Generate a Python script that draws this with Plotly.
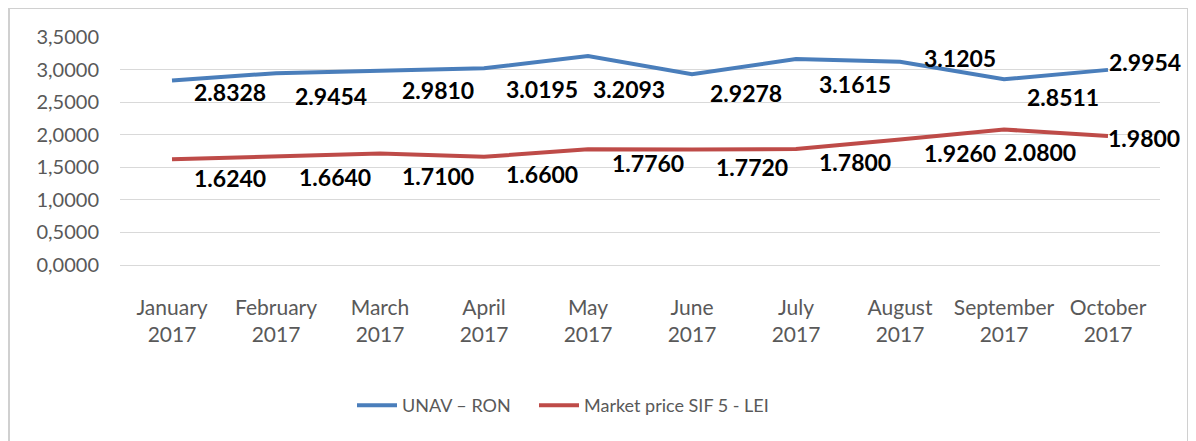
import plotly.graph_objects as go

months = ["January<br>2017", "February<br>2017", "March<br>2017", "April<br>2017", "May<br>2017",
          "June<br>2017", "July<br>2017", "August<br>2017", "September<br>2017", "October<br>2017"]
unav = [2.8328, 2.9454, 2.9810, 3.0195, 3.2093, 2.9278, 3.1615, 3.1205, 2.8511, 2.9954]
market = [1.6240, 1.6640, 1.7100, 1.6600, 1.7760, 1.7720, 1.7800, 1.9260, 2.0800, 1.9800]
y_ticks = [0, 0.5, 1.0, 1.5, 2.0, 2.5, 3.0, 3.5]
y_tick_text = ["0,0000", "0,5000", "1,0000", "1,5000", "2,0000", "2,5000", "3,0000", "3,5000"]

# label offsets (pixels) relative to each point
unav_off = [(58, 12), (55, 23), (58, 19), (58, 21), (41, 33), (54, 19), (59, 25), (60, -4), (59, 18), (37, -8)]
market_off = [(58, 19), (59, 20), (58, 22), (58, 17), (60, 14), (60, 17), (59, 13), (60, 13), (36, 22), (36, 2)]

BLUE = "#4a7ebb"
RED = "#be4b48"
# page body has an 8px margin: work in figure coordinates (screen - 8)
OFF = 8
W, H = 1196 - OFF, 441 - OFF
L, R, T, B = 120 - OFF, 1160 - OFF, 37 - OFF, 265 - OFF

fig = go.Figure()
fig.add_trace(go.Scatter(x=months, y=unav, mode="lines", name="UNAV \u2013 RON",
                         line=dict(color=BLUE, width=4), legend="legend"))
fig.add_trace(go.Scatter(x=months, y=market, mode="lines", name="Market price SIF 5 - LEI",
                         line=dict(color=RED, width=4), legend="legend2"))

for vals, offs in ((unav, unav_off), (market, market_off)):
    for m, v, (dx, dy) in zip(months, vals, offs):
        fig.add_annotation(x=m, y=v, text=f"{v:.4f}", showarrow=False,
                           xanchor="center", yanchor="middle",
                           xshift=dx, yshift=-dy,
                           font=dict(family="Lato", size=23, color="#000000", weight="bold"))

def px(xs):
    return (xs - OFF - L) / (R - L)

def py(ys):
    return (B - (ys - OFF)) / (B - T)

border = dict(color="#d0d0d0", width=2)
fig.add_shape(type="line", xref="paper", yref="paper", x0=px(9), x1=px(9), y0=py(8), y1=py(460), line=border)
fig.add_shape(type="line", xref="paper", yref="paper", x0=px(9), x1=px(1188), y0=py(8), y1=py(8), line=border)
fig.add_shape(type="line", xref="paper", yref="paper", x0=px(1188), x1=px(1188), y0=py(8), y1=py(460), line=border)

legend_common = dict(orientation="h", xanchor="left", yanchor="top",
                     font=dict(size=18, color="#595959"), itemwidth=40,
                     bgcolor="rgba(0,0,0,0)")

fig.update_layout(
    width=W, height=H,
    margin=dict(l=L, r=W - R, t=T, b=H - B, pad=0, autoexpand=False),
    paper_bgcolor="white", plot_bgcolor="white",
    font=dict(family="Lato", size=20, color="#595959"),
    showlegend=True,
    legend=dict(x=px(352), y=py(387), **legend_common),
    legend2=dict(x=px(534), y=py(387), **legend_common),
    xaxis=dict(showgrid=False, showline=False, zeroline=False, ticks="",
               ticklabelstandoff=28, tickfont=dict(size=21, color="#595959"),
               range=[-0.5, 9.5]),
    yaxis=dict(range=[0, 3.5], tickvals=y_ticks, ticktext=y_tick_text,
               showgrid=True, gridcolor="#d9d9d9", gridwidth=1,
               zeroline=True, zerolinecolor="#d9d9d9", zerolinewidth=1,
               showline=False, ticks="", ticklabelstandoff=20,
               tickfont=dict(size=20, color="#595959")),
)

fig.write_html("out.html")
